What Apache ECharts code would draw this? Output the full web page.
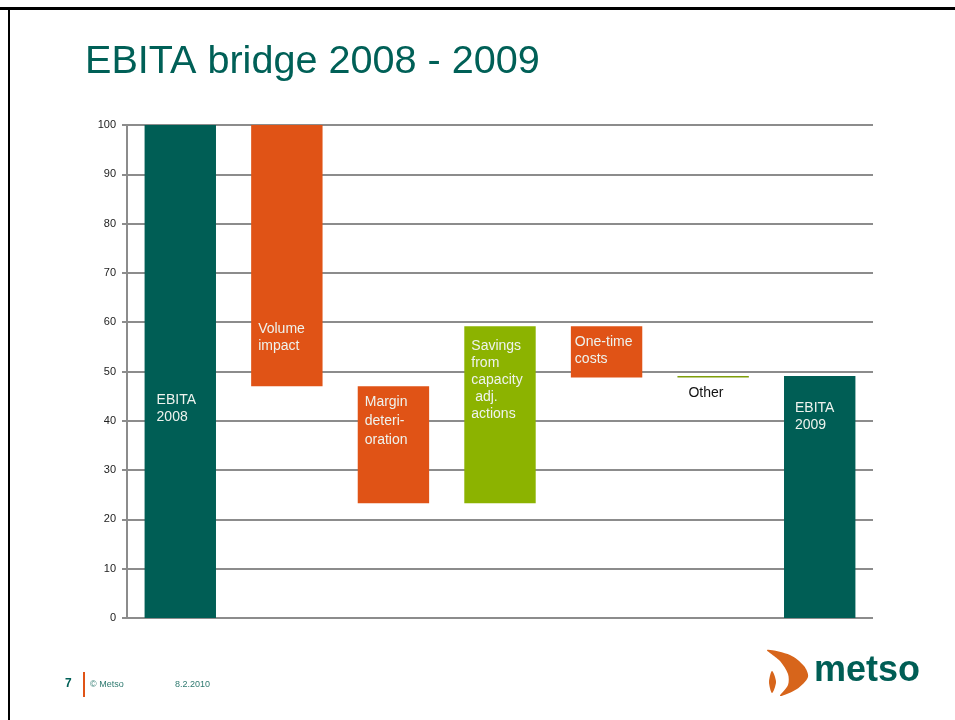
<!DOCTYPE html>
<html>
<head>
<meta charset="utf-8">
<script src="https://cdn.jsdelivr.net/npm/echarts@6/dist/echarts.min.js"></script>
<style>
  html, body { margin: 0; padding: 0; background: #fff; }
  #chart { width: 955px; height: 720px; }
</style>
</head>
<body>
<div id="chart"></div>
<script>
// waterfall steps
const categories = ['EBITA 2008', 'Volume impact', 'Margin deterioration',
  'Savings from capacity adj. actions', 'One-time costs', 'Other', 'EBITA 2009'];
const barBottom = [0, 47, 23.3, 23.3, 48.8, 48.8, 0];
const barTop = [100, 100, 47, 59.2, 59.2, 49.1, 49.1];
const barText = ['EBITA\n2008', 'Volume\nimpact', 'Margin\ndeteri-\noration',
  'Savings\nfrom\ncapacity\n adj.\nactions', 'One-time\ncosts', 'Other', 'EBITA\n2009'];
const yTicks = [0, 10, 20, 30, 40, 50, 60, 70, 80, 90, 100];

const teal = '#005e55';
const orange = '#e05316';
const green = '#8cb300';
const font = 'Liberation Sans, Arial, sans-serif';

// label offsets inside each bar (px from the bar's top-left corner)
const labelPos = [[12, 267], [7, 196], [7, 6], [7, 11], [4, 7], [11, 9], [11, 24]];

let chart = echarts.init(document.getElementById('chart'));

let heights = barTop.map((t, i) => +(t - barBottom[i]).toFixed(2));

function barColor(i){
  if (i === 0 || i === categories.length - 1) return teal;
  // step goes up -> green, down -> orange
  if (barTop[i] > barTop[i - 1] || barBottom[i] === barBottom[i - 1] && barTop[i] !== barTop[i - 1] && barBottom[i] !== 0) {
    return i === 5 ? '#7f9e0a' : green;
  }
  return orange;
}

chart.setOption({
  animation: false,
  grid: { left: 127, right: 82, top: 125, bottom: 102 },
  xAxis: {
    type: 'category',
    data: categories,
    axisLine: { show: false },
    axisTick: { show: false },
    axisLabel: { show: false }
  },
  yAxis: {
    type: 'value',
    min: 0,
    max: 100,
    interval: 10,
    axisLine: { show: true, lineStyle: { color: '#8c8c8c', width: 2 } },
    axisTick: { show: true, length: 5, lineStyle: { color: '#8c8c8c', width: 2 } },
    axisLabel: {
      color: '#222', fontSize: 11, fontFamily: font, margin: 11,
      formatter: v => yTicks.indexOf(v) >= 0 ? String(v) : ''
    },
    splitLine: { lineStyle: { color: '#8c8c8c', width: 2 } }
  },
  series: [
    {
      type: 'bar',
      stack: 'w',
      data: barBottom,
      itemStyle: { color: 'transparent' },
      barCategoryGap: '33%',
      silent: true
    },
    {
      type: 'bar',
      stack: 'w',
      data: heights.map((h, i) => ({
        value: h,
        itemStyle: { color: barColor(i) },
        label: {
          show: true,
          formatter: barText[i],
          position: labelPos[i],
          align: 'left',
          verticalAlign: 'top',
          color: i === 5 ? '#111' : '#eef3ee',
          fontSize: 14,
          lineHeight: i === 2 ? 19 : 17,
          fontFamily: font
        }
      })),
      barCategoryGap: '33%'
    }
  ],
  graphic: [
    // slide frame
    { type: 'rect', shape: { x: 0, y: 7, width: 955, height: 3 }, style: { fill: '#000' } },
    { type: 'rect', shape: { x: 8, y: 7, width: 2, height: 713 }, style: { fill: '#000' } },
    {
      type: 'text', x: 85, y: 42,
      style: { text: 'EBITA bridge 2008 - 2009', fill: '#006057', fontSize: 39.6, fontFamily: font }
    },
    // footer
    {
      type: 'text', x: 65, y: 678,
      style: { text: '7', fill: '#006057', fontSize: 12, fontWeight: 'bold', fontFamily: font }
    },
    { type: 'rect', shape: { x: 83, y: 672, width: 2, height: 25 }, style: { fill: orange } },
    {
      type: 'text', x: 90, y: 680,
      style: { text: '© Metso', fill: '#2f7a70', fontSize: 9, fontFamily: font }
    },
    {
      type: 'text', x: 175, y: 680,
      style: { text: '8.2.2010', fill: '#2f7a70', fontSize: 9, fontFamily: font }
    },
    // logo swoosh
    {
      type: 'polygon',
      shape: {
        points: [[767, 650], [790, 655], [804, 666], [808, 677], [797, 689], [780, 696],
          [788, 685], [788, 674], [780, 661]],
        smooth: 0.3
      },
      style: { fill: '#d7651b' }
    },
    {
      type: 'polygon',
      shape: { points: [[772, 671], [776, 682], [772, 693], [769, 682]], smooth: 0.3 },
      style: { fill: '#d7651b' }
    },
    {
      type: 'text', x: 814, y: 653,
      style: { text: 'metso', fill: '#005e55', fontSize: 36, fontWeight: 'bold', fontFamily: font }
    }
  ]
});
</script>
</body>
</html>
